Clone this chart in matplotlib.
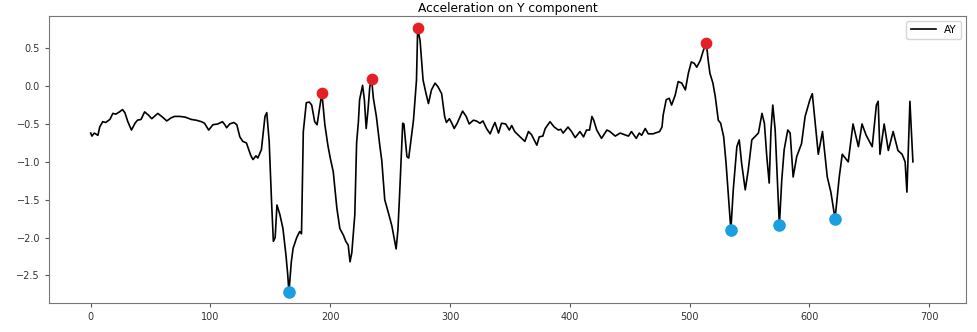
import matplotlib
matplotlib.use("Agg")
import matplotlib.pyplot as plt

# sample index and Y acceleration
t = [0, 1, 3, 6, 7.5, 10, 12.5, 16, 18.5, 21, 24, 26.5, 28.5, 31, 34, 37, 39, 42,
     45, 48, 51, 56, 60, 63.5, 67, 70, 74.5, 79, 84, 88, 92.5, 95, 98.5, 102, 106,
     110, 112, 113.5, 116, 119.5, 122, 124.5, 127, 130, 133.5, 135.5, 138, 139.5,
     142.5, 145.5, 147, 149, 151, 152.5, 154, 155.5, 158, 160.5, 163, 164.5, 165.5,
     167.5, 169, 172, 174.5, 176, 177.5, 179, 180, 182.5, 184.5, 187, 189, 191.5,
     193, 195.5, 198, 200, 202.5, 205.5, 208, 211, 213, 215, 216.5, 218, 220.5,
     222, 223.5, 224.5, 227, 228.5, 230, 231.5, 233, 234.5, 236, 238.5, 241.5, 243,
     245.5, 249, 251.5, 255, 256.5, 258, 260.5, 261.5, 264, 265.5, 269.5, 272,
     273, 275, 277.5, 280, 282, 284.5, 287.5, 290, 293, 295.5, 297, 299.5, 301.5,
     303.5, 306, 310.5, 313.5, 316, 319.5, 322, 325, 327.5, 330.5, 333.5, 335.5,
     337.5, 340.5, 343, 346.5, 349.5, 351.5, 354, 358.5, 362.5, 365.5, 368, 372.5,
     374.5, 377.5, 379.5, 383.5, 387, 390.5, 392.5, 394.5, 398.5, 401.5, 404.5,
     408.5, 411.5, 414, 416.5, 418.5, 420, 422.5, 426.5, 431, 433.5, 438, 442,
     445.5, 449, 451.5, 455.5, 458, 460, 463, 465.5, 469.5, 475, 477, 478, 480.5,
     483, 485, 488, 490.5, 493.5, 496.5, 499, 501.5, 504, 506, 509, 511.5, 514,
     515.5, 517, 519.5, 521.5, 524, 526, 528.5, 530.5, 532.5, 534.5, 536.5, 539.5,
     541.5, 543.5, 546.5, 549, 552, 554.5, 557.5, 560.5, 562.5, 564.5, 566.5, 568,
     569.5, 571.5, 573, 575, 577, 579, 582, 584, 586.5, 589.5, 593.5, 596.5, 600.5,
     602.5, 607.5, 611, 615, 618, 621.5, 625, 627.5, 632.5, 636.5, 641, 644, 647.5,
     652.5, 656, 657.5, 659, 662.5, 666, 670, 674, 677.5, 680, 681.5, 684, 686.5]
ay = [-0.62, -0.66, -0.62, -0.65, -0.54, -0.47, -0.48, -0.44, -0.36, -0.37, -0.34,
      -0.31, -0.35, -0.47, -0.58, -0.49, -0.45, -0.44, -0.34, -0.38, -0.43, -0.36,
      -0.41, -0.46, -0.42, -0.40, -0.40, -0.41, -0.44, -0.45, -0.47, -0.49, -0.58,
      -0.51, -0.50, -0.47, -0.51, -0.55, -0.50, -0.48, -0.51, -0.67, -0.73, -0.75,
      -0.91, -0.97, -0.92, -0.95, -0.84, -0.40, -0.35, -0.73, -1.53, -2.05, -2.00,
      -1.57, -1.70, -1.88, -2.23, -2.49, -2.72, -2.32, -2.14, -2.00, -1.92, -1.95,
      -0.60, -0.38, -0.22, -0.21, -0.25, -0.47, -0.51, -0.25, -0.09, -0.51, -0.78,
      -0.95, -1.13, -1.61, -1.88, -1.97, -2.05, -2.10, -2.32, -2.20, -1.70, -0.75,
      -0.47, -0.18, 0.01, -0.18, -0.56, -0.32, -0.01, 0.10, -0.16, -0.40, -0.80,
      -0.98, -1.50, -1.70, -1.85, -2.15, -1.90, -1.40, -0.49, -0.50, -0.93, -0.95,
      -0.45, 0.08, 0.77, 0.60, 0.08, -0.10, -0.23, -0.05, 0.04, -0.01, -0.10,
      -0.40, -0.48, -0.43, -0.49, -0.56, -0.49, -0.33, -0.40, -0.50, -0.45, -0.46,
      -0.49, -0.46, -0.56, -0.63, -0.55, -0.48, -0.62, -0.49, -0.50, -0.58, -0.52,
      -0.60, -0.67, -0.73, -0.60, -0.64, -0.78, -0.67, -0.66, -0.56, -0.47, -0.54,
      -0.58, -0.57, -0.62, -0.54, -0.60, -0.68, -0.60, -0.67, -0.58, -0.58, -0.40,
      -0.45, -0.58, -0.69, -0.58, -0.60, -0.66, -0.62, -0.64, -0.66, -0.60, -0.69,
      -0.62, -0.65, -0.56, -0.63, -0.63, -0.60, -0.54, -0.38, -0.18, -0.16, -0.25,
      -0.12, 0.06, 0.04, -0.05, 0.17, 0.32, 0.30, 0.25, 0.34, 0.47, 0.57, 0.35,
      0.17, 0.04, -0.14, -0.45, -0.49, -0.67, -1.02, -1.46, -1.90, -1.37, -0.80,
      -0.71, -1.02, -1.37, -1.11, -0.71, -0.67, -0.62, -0.36, -0.49, -0.93, -1.28,
      -0.58, -0.25, -0.58, -1.11, -1.84, -1.24, -0.84, -0.58, -0.62, -1.20, -0.93,
      -0.76, -0.40, -0.18, -0.10, -0.90, -0.60, -1.20, -1.40, -1.75, -1.20, -0.90,
      -1.00, -0.50, -0.80, -0.50, -0.65, -0.80, -0.25, -0.20, -0.90, -0.50, -0.85,
      -0.60, -0.85, -0.90, -1.00, -1.40, -0.20, -1.00]

# detected extrema
peak_t = [193, 234.5, 273, 514]
peak_ay = [-0.09, 0.10, 0.77, 0.57]
valley_t = [165.5, 534.5, 575, 621.5]
valley_ay = [-2.72, -1.90, -1.84, -1.75]

fig = plt.figure(figsize=(9.77, 3.32), dpi=100)
ax = fig.add_axes([0.0502, 0.0883, 0.9385, 0.8644])

ax.plot(t, ay, color="black", lw=1.2, label="AY")
ax.scatter(peak_t, peak_ay, s=55, color="#e41f26", zorder=3)
ax.scatter(valley_t, valley_ay, s=65, color="#1a9fe0", zorder=3)

ax.set_xlim(-34.8, 730.8)
ax.set_ylim(-2.86, 0.93)
ax.set_yticks([0.5, 0.0, -0.5, -1.0, -1.5, -2.0, -2.5])
ax.tick_params(labelsize=7, length=3, color="#555555", labelcolor="#333333")
for s in ax.spines.values():
    s.set_color("#777777")
ax.set_title("Acceleration on Y component", fontsize=8.8, pad=3)
ax.legend(loc="upper right", fontsize=7.5, handlelength=2.4)

fig.savefig("out.png", dpi=100)
